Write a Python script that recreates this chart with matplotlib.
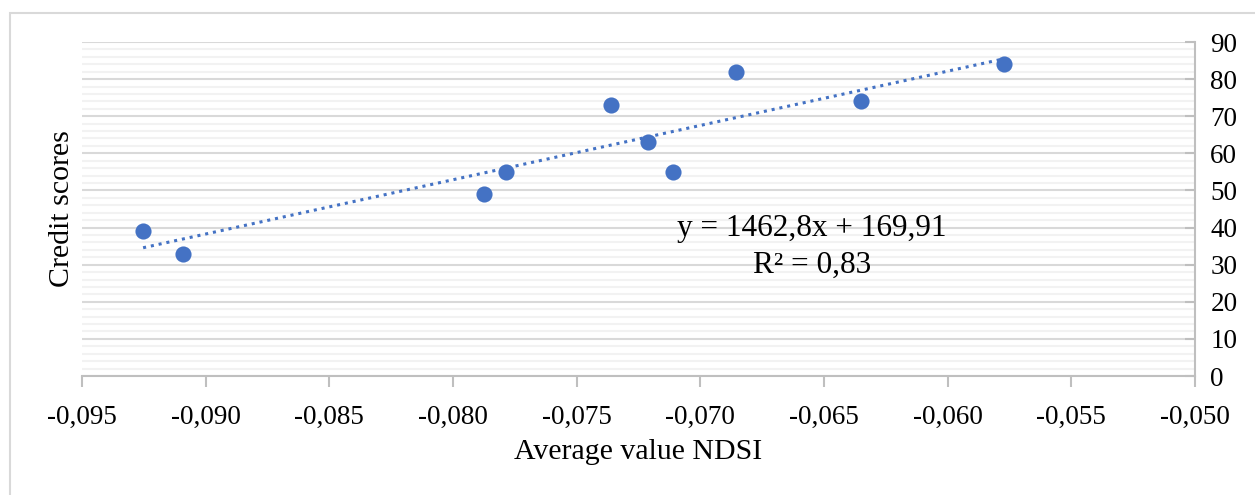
import matplotlib
matplotlib.use("Agg")
import matplotlib.pyplot as plt
import matplotlib.transforms as mtransforms
import numpy as np
from matplotlib.patches import Rectangle
from matplotlib.ticker import FuncFormatter, MultipleLocator

ndsi = [-0.09253, -0.09092, -0.07875, -0.07786, -0.07361, -0.07212, -0.0711, -0.06856, -0.0635, -0.05772]
scores = [39, 33, 49, 55, 73, 63, 55, 82, 74, 84]
slope = 1462.8
intercept = 169.91
eq_text = "y = 1462,8x + 169,91"
r2_text = "R² = 0,83"
x_ticks = [-0.095, -0.090, -0.085, -0.080, -0.075, -0.070, -0.065, -0.060, -0.055, -0.050]
y_ticks = [0, 10, 20, 30, 40, 50, 60, 70, 80, 90]

plt.rcParams['font.family'] = ['Liberation Serif', 'DejaVu Serif']

W, H = 1255, 495
fig = plt.figure(figsize=(W / 100, H / 100), dpi=100)
fig.patches.append(Rectangle((10 / W, -0.1), 1.2, 1 - 13 / H + 0.1, transform=fig.transFigure,
                             fill=False, edgecolor='#d9d9d9', linewidth=1.5))
ax = fig.add_axes([82 / W, 1 - 376 / H, (1195 - 82) / W, (376 - 42) / H])

blue = '#4472C4'
xs = np.array([min(ndsi), max(ndsi)])
ax.plot(xs, slope * xs + intercept, linestyle=(0, (1, 1.6)), color=blue, linewidth=2.2, zorder=3)
ax.scatter(ndsi, scores, s=135, color=blue, zorder=4, linewidths=0)

ax.set_xlim(-0.095, -0.050)
ax.set_ylim(0, 90)
ax.set_xticks(x_ticks)
ax.set_yticks(y_ticks)
ax.yaxis.set_minor_locator(MultipleLocator(2))
ax.xaxis.set_major_formatter(FuncFormatter(lambda v, p: f"{v:.3f}".replace('.', ',')))

ax.grid(which='major', axis='y', color='#d9d9d9', linewidth=1.5, zorder=0)
ax.grid(which='minor', axis='y', color='#f2f2f2', linewidth=1.5, zorder=0)
ax.set_axisbelow(True)

for s in ['left', 'top']:
    ax.spines[s].set_visible(False)
for s in ['right', 'bottom']:
    ax.spines[s].set_color('#bfbfbf')
    ax.spines[s].set_linewidth(1.5)

ax.yaxis.tick_right()
ax.tick_params(axis='y', which='major', direction='in', length=7, color='#bfbfbf', width=1.5,
               labelsize=19.5, pad=-7)
ax.tick_params(axis='y', which='minor', length=0)
ax.tick_params(axis='y', labelright=True, labelleft=False)
ax.tick_params(axis='x', direction='out', length=8, color='#bfbfbf', width=1.5, labelsize=19.5, pad=13)

for lbl in ax.yaxis.get_majorticklabels():
    lbl.set_transform(lbl.get_transform() + mtransforms.ScaledTranslation(25 / 100, 0, fig.dpi_scale_trans))

fig.text(638 / W, 1 - 452 / H, "Average value NDSI", ha='center', va='center', fontsize=21.5)
fig.text(62 / W, 1 - 209 / H, "Credit scores", rotation=90, ha='center', va='center', fontsize=21.5)

fig.text(812 / W, 1 - 228 / H, eq_text, ha='center', va='center', fontsize=22.5)
fig.text(812 / W, 1 - 265 / H, r2_text, ha='center', va='center', fontsize=22.5)

fig.savefig("out.png", dpi=100)
